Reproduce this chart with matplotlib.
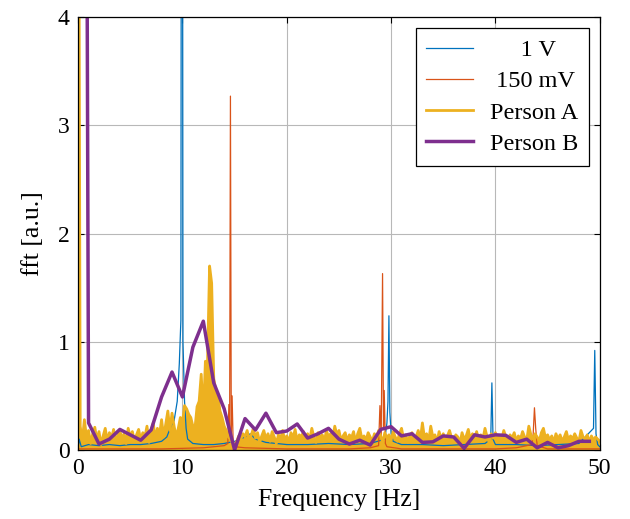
import numpy as np
import matplotlib
matplotlib.use('Agg')
import matplotlib.pyplot as plt

font = {'family': 'Liberation Serif',
        'size': 17}
matplotlib.rc('font', **font)

# 1 V reference spectrum
freq_1v = [0, 0.1, 0.3, 1, 2, 3, 4, 5, 6, 7, 8, 8.5, 8.9, 9.2, 9.5, 9.7, 9.85, 9.95, 10.05, 10.2,
           10.35, 10.5, 11, 12, 13, 14, 15, 16, 16.5, 17, 18, 19, 20, 22, 24, 26, 28, 29.4, 29.6, 29.7,
           29.79, 29.88, 30.0, 30.2, 31, 33, 35, 37, 39, 39.55, 39.66, 39.77, 40, 42, 44, 46, 48, 49.2,
           49.4, 49.52, 49.64, 49.8, 50]
fft_1v = [0.02, 0.1, 0.03, 0.05, 0.04, 0.05, 0.04, 0.05, 0.05, 0.06, 0.08, 0.12, 0.22, 0.27, 0.45, 0.8, 1.2, 12.0, 1.0, 0.45,
          0.2, 0.1, 0.06, 0.05, 0.05, 0.06, 0.08, 0.12, 0.15, 0.1, 0.07, 0.06, 0.05, 0.05, 0.06, 0.05, 0.06, 0.1, 0.25, 0.45,
          1.24, 0.35, 0.15, 0.08, 0.05, 0.05, 0.04, 0.05, 0.06, 0.1, 0.62, 0.1, 0.05, 0.05, 0.04, 0.05, 0.06, 0.18,
          0.2, 0.92, 0.15, 0.05, 0.03]

# 150 mV reference spectrum
freq_150mv = [0, 2, 5, 8, 10, 12, 13, 14, 14.35, 14.45, 14.52, 14.6, 14.68, 14.76, 14.86, 15, 16, 18, 20, 22,
              24, 26, 28, 28.8, 28.93, 29.05, 29.18, 29.27, 29.34, 29.45, 29.6, 31, 34, 37, 40, 42, 43.5, 43.62,
              43.74, 43.86, 44.0, 45, 48, 50]
fft_150mv = [0.01, 0.01, 0.01, 0.01, 0.015, 0.02, 0.03, 0.04, 0.06, 0.42, 0.1, 3.27, 0.15, 0.5, 0.06, 0.03, 0.02, 0.015, 0.01, 0.01,
             0.01, 0.01, 0.02, 0.04, 0.41, 0.1, 1.63, 0.2, 0.55, 0.06, 0.03, 0.01, 0.01, 0.01, 0.01, 0.02, 0.05, 0.15,
             0.39, 0.2, 0.04, 0.01, 0.01, 0.01]

# Person A, 0.2 Hz steps from 0 to 50 Hz
fft_person_a = [8.0, 0.22, 0.08, 0.28, 0.12, 0.18, 0.06, 0.15, 0.21, 0.09,
                0.17, 0.05, 0.13, 0.2, 0.08, 0.16, 0.11, 0.19, 0.07, 0.14,
                0.18, 0.1, 0.15, 0.06, 0.2, 0.12, 0.17, 0.08, 0.14, 0.19,
                0.09, 0.16, 0.12, 0.22, 0.07, 0.18, 0.25, 0.1, 0.2, 0.14,
                0.28, 0.12, 0.24, 0.36, 0.18, 0.34, 0.22, 0.12, 0.2, 0.3,
                0.25, 0.41, 0.38, 0.33, 0.3, 0.22, 0.2, 0.4, 0.45, 0.7,
                0.3, 0.82, 0.8, 1.7, 1.54, 0.66, 0.55, 0.5, 0.36, 0.3,
                0.22, 0.18, 0.12, 0.1, 0.06, 0.05, 0.08, 0.13, 0.1, 0.15,
                0.12, 0.18, 0.09, 0.14, 0.2, 0.11, 0.16, 0.07, 0.13, 0.18,
                0.1, 0.15, 0.08, 0.17, 0.12, 0.06, 0.14, 0.1, 0.18, 0.09,
                0.13, 0.07, 0.16, 0.11, 0.19, 0.08, 0.14, 0.12, 0.17, 0.1,
                0.15, 0.09, 0.2, 0.12, 0.07, 0.16, 0.11, 0.14, 0.08, 0.18,
                0.12, 0.15, 0.1, 0.22, 0.14, 0.18, 0.09, 0.13, 0.16, 0.08,
                0.14, 0.11, 0.17, 0.07, 0.15, 0.2, 0.1, 0.13, 0.09, 0.16,
                0.12, 0.08, 0.15, 0.1, 0.18, 0.13, 0.07, 0.16, 0.11, 0.14,
                0.09, 0.17, 0.12, 0.08, 0.15, 0.2, 0.1, 0.14, 0.07, 0.13,
                0.16, 0.1, 0.12, 0.18, 0.09, 0.25, 0.11, 0.15, 0.08, 0.22,
                0.12, 0.14, 0.07, 0.17, 0.1, 0.15, 0.09, 0.13, 0.18, 0.11,
                0.08, 0.14, 0.12, 0.06, 0.16, 0.1, 0.13, 0.19, 0.09, 0.15,
                0.11, 0.17, 0.08, 0.14, 0.1, 0.2, 0.12, 0.07, 0.15, 0.11,
                0.16, 0.09, 0.13, 0.1, 0.18, 0.12, 0.07, 0.14, 0.11, 0.16,
                0.08, 0.13, 0.1, 0.17, 0.12, 0.09, 0.22, 0.14, 0.1, 0.15,
                0.12, 0.08, 0.16, 0.2, 0.11, 0.14, 0.09, 0.13, 0.07, 0.15,
                0.1, 0.14, 0.08, 0.12, 0.17, 0.09, 0.13, 0.1, 0.15, 0.11,
                0.08, 0.18, 0.12, 0.1, 0.14, 0.07, 0.13, 0.09, 0.12, 0.1,
                0.08]
freq_person_a = np.linspace(0, 50, len(fft_person_a))

# Person B, 1 Hz steps
fft_person_b = [30, 0.25, 0.055, 0.1, 0.19, 0.14, 0.09, 0.185, 0.49, 0.72,
                0.49, 0.95, 1.19, 0.62, 0.38, 0.0, 0.29, 0.185, 0.34, 0.16,
                0.175, 0.24, 0.11, 0.15, 0.2, 0.1, 0.055, 0.09, 0.045, 0.19,
                0.215, 0.13, 0.15, 0.07, 0.075, 0.13, 0.12, 0.015, 0.14, 0.12,
                0.14, 0.135, 0.07, 0.1, 0.02, 0.07, 0.02, 0.04, 0.08, 0.08]
freq_person_b = np.arange(len(fft_person_b))

c_blue = '#0072BD'
c_orange = '#D95319'
c_yellow = '#EDB120'
c_purple = '#7E2F8E'

fig = plt.figure(figsize=(6.3, 5.19), dpi=100)
ax = fig.add_axes([0.124, 0.133, 0.828, 0.834])

ax.plot(freq_1v, fft_1v, color=c_blue, linewidth=0.9, label='     1 V')
ax.plot(freq_150mv, fft_150mv, color=c_orange, linewidth=0.9, label=' 150 mV')
ax.fill_between(freq_person_a, 0, fft_person_a, color=c_yellow, linewidth=0)
ax.plot(freq_person_a, fft_person_a, color=c_yellow, linewidth=2.0, label='Person A')
ax.plot(freq_person_b, fft_person_b, color=c_purple, linewidth=2.5, label='Person B')

ax.set_xlim(0, 50)
ax.set_ylim(0, 4)
ax.set_xticks(range(0, 51, 10))
ax.set_yticks(range(0, 5))
ax.grid(True, color='#b8b8b8', linewidth=0.8)
ax.set_axisbelow(True)
ax.tick_params(direction='in', top=True, right=True, length=4, width=0.8, pad=6)
for s in ax.spines.values():
    s.set_linewidth(0.9)

ax.set_xlabel('Frequency [Hz]', fontsize=18.5, labelpad=7)
ax.set_ylabel('fft [a.u.]', fontsize=18.5, labelpad=10)

leg = ax.legend(loc='upper right', fancybox=False, edgecolor='black', framealpha=1, fontsize=17.5,
                handlelength=1.9, handletextpad=0.7, borderaxespad=0.45, labelspacing=0.38, borderpad=0.45)
leg.get_frame().set_linewidth(0.9)

plt.savefig('out.png', dpi=100)
